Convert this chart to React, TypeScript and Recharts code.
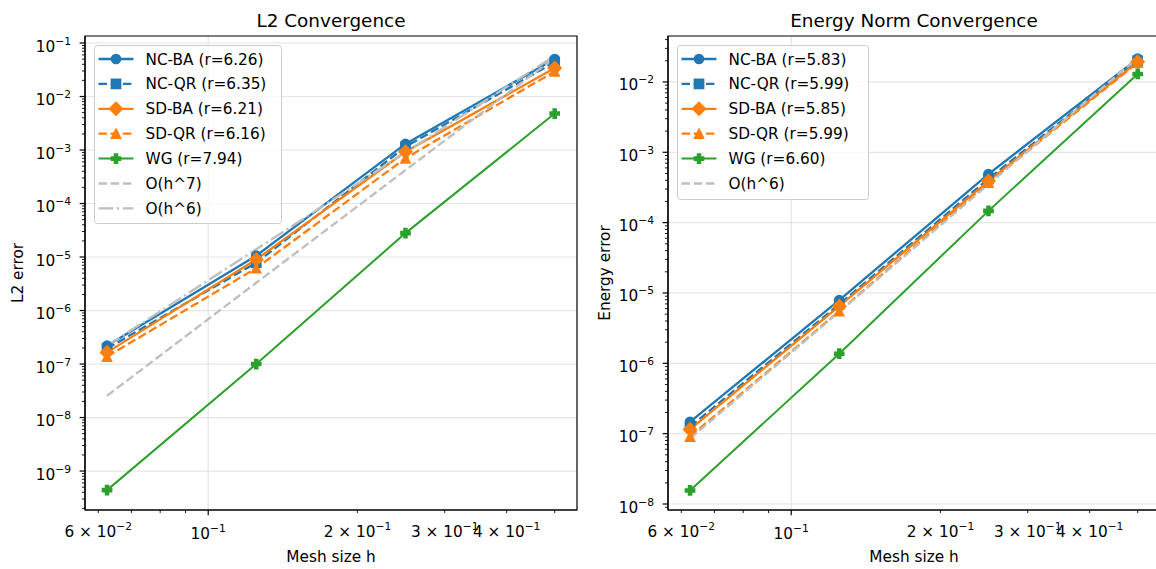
import React from 'react';
import { LineChart, Line, XAxis, YAxis, CartesianGrid, Legend, ReferenceArea } from 'recharts';

const FONT = "'DejaVu Sans', sans-serif";
const BLUE = '#1f77b4';
const ORANGE = '#ff7f0e';
const GREEN = '#2ca02c';
const REF = '#bfbfbf';
const FS = 15.3;
const FS_SUP = 10.7;
const FS_TITLE = 18.4;

// ---------- data ----------
const meshSizes = [0.0625, 0.125, 0.25, 0.5];

// L2 errors
const l2NcBa = [2.2e-7, 1.06e-5, 1.3e-3, 5.0e-2];
const l2NcQr = [1.95e-7, 7.8e-6, 1.15e-3, 4.4e-2];
const l2SdBa = [1.65e-7, 9.0e-6, 9.3e-4, 3.4e-2];
const l2SdQr = [1.38e-7, 6.2e-6, 7.0e-4, 2.95e-2];
const l2Wg = [4.4e-10, 1.0e-7, 2.8e-5, 4.8e-3];
const l2RefH7 = [2.55e-8, 3.3e-6, 4.2e-4, 5.3e-2];
const l2RefH6 = [2.2e-7, 1.4e-5, 9.0e-4, 5.8e-2];
const l2Labels = ['NC-BA (r=6.26)', 'NC-QR (r=6.35)', 'SD-BA (r=6.21)', 'SD-QR (r=6.16)', 'WG (r=7.94)', 'O(h^7)', 'O(h^6)'];

// Energy-norm errors
const enNcBa = [1.47e-7, 7.9e-6, 4.9e-4, 2.15e-2];
const enNcQr = [1.25e-7, 6.9e-6, 4.2e-4, 2.0e-2];
const enSdBa = [1.15e-7, 6.5e-6, 3.9e-4, 1.93e-2];
const enSdQr = [9.1e-8, 5.5e-6, 3.7e-4, 1.88e-2];
const enWg = [1.56e-8, 1.37e-6, 1.47e-4, 1.3e-2];
const enRefH6 = [8.5e-8, 5.4e-6, 3.5e-4, 2.2e-2];
const energyLabels = ['NC-BA (r=5.83)', 'NC-QR (r=5.99)', 'SD-BA (r=5.85)', 'SD-QR (r=5.99)', 'WG (r=6.60)', 'O(h^6)'];

// ticks
const xTickValues = [0.06, 0.07, 0.08, 0.09, 0.1, 0.2, 0.3, 0.4, 0.5];
const xLabelValues = [0.06, 0.1, 0.2, 0.3, 0.4];
const xLabelMantissas = ['6', '', '2', '3', '4'];
const xLabelExponents = ['\u22122', '\u22121', '\u22121', '\u22121', '\u22121'];
const xMajorValues = [0.1];
const xDomain = [0.05642, 0.5546];

const yMultipliers = [1, 2, 3, 4, 5, 6, 7, 8, 9];
const l2Decades = [1e-10, 1e-9, 1e-8, 1e-7, 1e-6, 1e-5, 1e-4, 1e-3, 1e-2, 1e-1];
const l2YMajors = [1e-1, 1e-2, 1e-3, 1e-4, 1e-5, 1e-6, 1e-7, 1e-8, 1e-9];
const l2YMajorLabels = ['\u22121', '\u22122', '\u22123', '\u22124', '\u22125', '\u22126', '\u22127', '\u22128', '\u22129'];
const l2YDomain = [1.87e-10, 0.1352];

const enDecades = [1e-9, 1e-8, 1e-7, 1e-6, 1e-5, 1e-4, 1e-3, 1e-2];
const enYMajors = [1e-2, 1e-3, 1e-4, 1e-5, 1e-6, 1e-7, 1e-8];
const enYMajorLabels = ['\u22122', '\u22123', '\u22124', '\u22125', '\u22126', '\u22127', '\u22128'];
const enYDomain = [8.22e-9, 0.04498];

// ---------- styles ----------
const DASH = '8.5 3.7';
const DASHDOT = '14.7 3.7 2.3 3.7';
const LW = 2.3;

const l2Series = [
  { key: 'ncba', values: l2NcBa, label: l2Labels[0], color: BLUE, dash: undefined, shape: 'circle', width: LW },
  { key: 'ncqr', values: l2NcQr, label: l2Labels[1], color: BLUE, dash: DASH, shape: 'square', width: LW },
  { key: 'sdba', values: l2SdBa, label: l2Labels[2], color: ORANGE, dash: undefined, shape: 'diamond', width: LW },
  { key: 'sdqr', values: l2SdQr, label: l2Labels[3], color: ORANGE, dash: DASH, shape: 'triangle', width: LW },
  { key: 'wg', values: l2Wg, label: l2Labels[4], color: GREEN, dash: undefined, shape: 'plus', width: 2 },
  { key: 'ref7', values: l2RefH7, label: l2Labels[5], color: REF, dash: DASH, shape: '', width: LW },
  { key: 'ref6', values: l2RefH6, label: l2Labels[6], color: REF, dash: DASHDOT, shape: '', width: LW },
];

const enSeries = [
  { key: 'ncba', values: enNcBa, label: energyLabels[0], color: BLUE, dash: undefined, shape: 'circle', width: LW },
  { key: 'ncqr', values: enNcQr, label: energyLabels[1], color: BLUE, dash: DASH, shape: 'square', width: LW },
  { key: 'sdba', values: enSdBa, label: energyLabels[2], color: ORANGE, dash: undefined, shape: 'diamond', width: LW },
  { key: 'sdqr', values: enSdQr, label: energyLabels[3], color: ORANGE, dash: DASH, shape: 'triangle', width: LW },
  { key: 'wg', values: enWg, label: energyLabels[4], color: GREEN, dash: undefined, shape: 'plus', width: 2 },
  { key: 'ref6', values: enRefH6, label: energyLabels[5], color: REF, dash: DASH, shape: '', width: LW },
];

// ---------- helpers ----------
const near = (a: number, b: number) => Math.abs(a / b - 1) < 1e-6;

function buildTicks(decades: number[], domain: number[]) {
  const out: number[] = [];
  decades.forEach((d) => yMultipliers.forEach((m) => {
    const v = d * m;
    if (v >= domain[0] && v <= domain[1]) out.push(v);
  }));
  return out;
}

function Marker({ cx, cy, shape, color }: any) {
  if (cx == null || cy == null || !shape) return null;
  const sw = 1.5;
  const r = 4.6;
  if (shape === 'circle') return <circle cx={cx} cy={cy} r={r} fill={color} stroke={color} strokeWidth={sw} />;
  if (shape === 'square') return <rect x={cx - r} y={cy - r} width={2 * r} height={2 * r} fill={color} stroke={color} strokeWidth={sw} strokeLinejoin="miter" />;
  if (shape === 'diamond') {
    const d = 6.5;
    return <path d={`M${cx},${cy - d}L${cx + d},${cy}L${cx},${cy + d}L${cx - d},${cy}Z`} fill={color} stroke={color} strokeWidth={sw} />;
  }
  if (shape === 'triangle') {
    return <path d={`M${cx},${cy - r}L${cx + r},${cy + r}L${cx - r},${cy + r}Z`} fill={color} stroke={color} strokeWidth={sw} />;
  }
  if (shape === 'plus') {
    const a = 1.53;
    const p = [[-a, -r], [a, -r], [a, -a], [r, -a], [r, a], [a, a], [a, r], [-a, r], [-a, a], [-r, a], [-r, -a], [-a, -a]];
    return <path d={'M' + p.map(([x, y]) => `${cx + x},${cy + y}`).join('L') + 'Z'} fill={color} stroke={color} strokeWidth={sw} />;
  }
  return null;
}

const makeYTick = (majors: number[], labels: string[]) => (props: any) => {
  const { x, y, payload } = props;
  const v = payload.value;
  const idx = majors.findIndex((m) => near(v, m));
  const len = idx >= 0 ? 5.35 : 3.05;
  return (
    <g>
      <line x1={x - len} x2={x} y1={y} y2={y} stroke="#000" strokeWidth={idx >= 0 ? 1.2 : 0.9} />
      {idx >= 0 && (
        <text x={x - 14} y={y + 8.5} textAnchor="end" fontFamily={FONT} fontSize={FS} fill="#000">
          <tspan>10</tspan>
          <tspan dy={-7} fontSize={FS_SUP}>{labels[idx]}</tspan>
        </text>
      )}
    </g>
  );
};

const XTick = (props: any) => {
  const { x, y, payload } = props;
  const v = payload.value;
  const idx = xLabelValues.findIndex((m) => near(v, m));
  const major = xMajorValues.some((m) => near(v, m));
  const len = major ? 5.35 : 3.05;
  const mant = idx >= 0 ? xLabelMantissas[idx] : '';
  return (
    <g>
      <line x1={x} x2={x} y1={y} y2={y + len} stroke="#000" strokeWidth={major ? 1.2 : 0.9} />
      {idx >= 0 && (
        <text x={x} y={y + (mant ? 26.5 : 29)} textAnchor="middle" fontFamily={FONT} fontSize={FS} fill="#000">
          {mant ? <tspan>{mant + ' \u00d7 '}</tspan> : null}
          <tspan>10</tspan>
          <tspan dy={-7} fontSize={FS_SUP}>{xLabelExponents[idx]}</tspan>
        </text>
      )}
    </g>
  );
};

const AxisText = (props: any) => {
  const { viewBox, text, mode, off } = props;
  if (!viewBox) return null;
  const { x, y, width, height } = viewBox;
  if (mode === 'y') {
    const cx = x + width - off;
    const cy = y + height / 2;
    return (
      <text x={cx} y={cy} dy={5.5} transform={`rotate(-90 ${cx} ${cy})`} textAnchor="middle" fontFamily={FONT} fontSize={FS} fill="#000">
        {text}
      </text>
    );
  }
  if (mode === 'title') {
    return (
      <text x={x + width / 2} y={y - 9.5} textAnchor="middle" fontFamily={FONT} fontSize={FS_TITLE} fill="#000">
        {text}
      </text>
    );
  }
  return (
    <text x={x + width / 2} y={y + 52} textAnchor="middle" fontFamily={FONT} fontSize={FS} fill="#000">
      {text}
    </text>
  );
};

const LegendBox = ({ items, w, h }: any) => (
  <svg width={w + 2} height={h + 2} style={{ display: 'block', overflow: 'visible' }}>
    <rect x={0.5} y={0.5} width={w} height={h} rx={3} ry={3} fill="#ffffff" fillOpacity={0.8} stroke="#cccccc" strokeWidth={1} />
    {items.map((it: any, i: number) => {
      const cy = 14 + i * 24.9;
      return (
        <g key={i}>
          <line x1={4.5} x2={39.5} y1={cy} y2={cy} stroke={it.color} strokeWidth={it.width} strokeDasharray={it.dash} />
          <Marker cx={22} cy={cy} shape={it.shape} color={it.color} />
          <text x={51.5} y={cy + 5.5} fontFamily={FONT} fontSize={FS} fill="#000">{it.label}</text>
        </g>
      );
    })}
  </svg>
);

function Panel(props: any) {
  const { left, width, marginRight, yAxisWidth, title, yLabel, yLabelOff, yDomain, yTicks, yMajors, yMajorLabels, series, legendPos, legendSize } = props;
  const rows = meshSizes.map((h, i) => {
    const r: any = { h };
    series.forEach((s: any) => { r[s.key] = s.values[i]; });
    return r;
  });
  const YTick = makeYTick(yMajors, yMajorLabels);
  return (
    <div style={{ position: 'absolute', left, top: 0 }}>
      <LineChart width={width} height={569} data={rows} margin={{ top: 36, right: marginRight, bottom: 0, left: 0 }}>
        <CartesianGrid horizontalValues={yMajors} verticalValues={xMajorValues} stroke="#e6e6e6" strokeWidth={1.2} />
        <XAxis
          dataKey="h" type="number" scale="log" domain={xDomain} allowDataOverflow
          ticks={xTickValues} interval={0} tick={XTick} tickLine={false} tickSize={0} tickMargin={0}
          height={59} axisLine={{ stroke: '#000', strokeWidth: 1.2 }}
          label={<AxisText mode="x" text="Mesh size h" />}
        />
        <YAxis
          type="number" scale="log" domain={yDomain} allowDataOverflow
          ticks={yTicks} interval={0} tick={YTick} tickLine={false} tickSize={0} tickMargin={0}
          width={yAxisWidth} axisLine={{ stroke: '#000', strokeWidth: 1.2 }}
          label={<AxisText mode="y" text={yLabel} off={yLabelOff} />}
        />
        {series.map((s: any) => (
          <Line
            key={s.key} dataKey={s.key} type="linear" stroke={s.color} strokeWidth={s.width}
            strokeDasharray={s.dash} isAnimationActive={false} activeDot={false}
            dot={s.shape ? (p: any) => <Marker key={`${s.key}-${p.index}`} cx={p.cx} cy={p.cy} shape={s.shape} color={s.color} /> : false}
          />
        ))}
        <ReferenceArea
          x1={xDomain[0]} x2={xDomain[1]} y1={yDomain[0]} y2={yDomain[1]}
          fill="none" fillOpacity={0} stroke="#000" strokeWidth={1.2} ifOverflow="visible"
          label={<AxisText mode="title" text={title} />}
        />
        <Legend
          layout="vertical" align="center" verticalAlign="middle"
          wrapperStyle={{ left: legendPos[0], top: legendPos[1], width: legendSize[0] + 2, height: legendSize[1] + 2 }}
          content={() => <LegendBox items={series} w={legendSize[0]} h={legendSize[1]} />}
        />
      </LineChart>
    </div>
  );
}

export default function App() {
  return (
    <div style={{ position: 'absolute', left: 0, top: 0, width: 1156, height: 569, overflow: 'hidden', background: '#fff' }}>
      <Panel
        left={0} width={580} marginRight={3} yAxisWidth={85}
        title="L2 Convergence" yLabel="L2 error" yLabelOff={67.5}
        yDomain={l2YDomain} yTicks={buildTicks(l2Decades, l2YDomain)}
        yMajors={l2YMajors} yMajorLabels={l2YMajorLabels}
        series={l2Series} legendPos={[94, 45]} legendSize={[187, 178]}
      />
      <Panel
        left={580} width={580} marginRight={0} yAxisWidth={88}
        title="Energy Norm Convergence" yLabel="Energy error" yLabelOff={64}
        yDomain={enYDomain} yTicks={buildTicks(enDecades, enYDomain)}
        yMajors={enYMajors} yMajorLabels={enYMajorLabels}
        series={enSeries} legendPos={[96.5, 45]} legendSize={[191, 154]}
      />
    </div>
  );
}
